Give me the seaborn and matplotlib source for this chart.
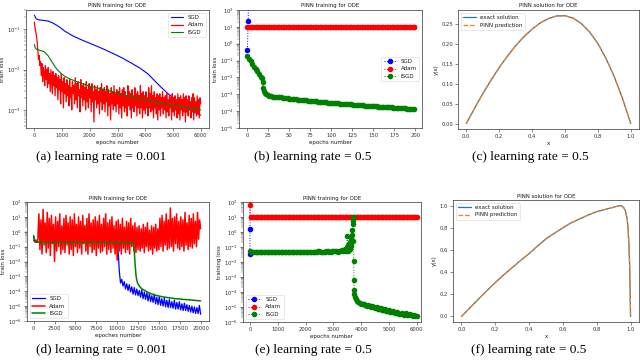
import numpy as np
import matplotlib
matplotlib.use("Agg")
import matplotlib.pyplot as plt
from matplotlib.ticker import LogLocator, NullFormatter, FormatStrFormatter, MultipleLocator
import seaborn as sns

# ---------------- data ----------------
# (a) learning rate 0.001, 6000 epochs
a_sgd_epochs = [0, 60, 150, 300, 500, 700, 900, 1100, 1400, 1700, 2000, 2300, 2600, 2900, 3200,
                3500, 3800, 4100, 4400, 4600, 4800, 5000, 5200, 5400, 5600, 5800, 6000]
a_sgd_loss = [0.225, 0.185, 0.172, 0.168, 0.16, 0.14, 0.115, 0.09, 0.068, 0.055, 0.045, 0.037, 0.03,
              0.024, 0.019, 0.0145, 0.011, 0.0078, 0.0048, 0.0035, 0.0026, 0.002, 0.0016, 0.0012,
              0.001, 0.00085, 0.00074]
a_adam_epochs = list(range(0, 6001, 25))
a_adam_log10 = [-0.82, -0.95, -1.05, -1.15, -1.30, -1.50, -1.75, -1.65, -1.90, -1.80,
                -2.15, -1.85, -2.30, -1.95, -2.05, -2.40, -1.90, -2.25, -2.00, -2.45,
                -1.95, -2.35, -2.10, -2.55, -2.00, -2.30, -2.60, -2.05, -2.40, -2.15,
                -2.65, -2.10, -2.45, -2.20, -2.75, -2.15, -2.50, -2.25, -2.85, -2.10,
                -2.55, -2.30, -2.95, -2.20, -2.60, -2.35, -2.80, -2.25, -2.65, -2.40,
                -2.90, -2.25, -2.70, -2.45, -3.00, -2.30, -2.60, -2.40, -2.85, -2.20,
                -2.75, -2.35, -2.95, -2.30, -2.65, -2.50, -3.05, -2.25, -2.70, -2.40,
                -2.90, -2.35, -2.75, -2.45, -3.00, -2.30, -2.80, -2.50, -2.95, -2.35,
                -2.70, -2.45, -3.05, -2.35, -2.80, -2.55, -3.30, -2.40, -2.75, -2.50,
                -2.95, -2.40, -2.85, -2.55, -3.10, -2.45, -2.80, -2.35, -3.00, -2.50,
                -2.85, -2.45, -3.05, -2.55, -2.80, -2.40, -3.15, -2.50, -2.90, -2.60,
                -3.25, -2.45, -2.85, -2.55, -3.00, -2.40, -2.90, -2.60, -3.05, -2.50,
                -2.85, -2.55, -3.10, -2.45, -2.95, -2.60, -3.20, -2.50, -2.90, -2.45,
                -3.05, -2.55, -2.95, -2.65, -3.15, -2.40, -2.90, -2.55, -3.00, -2.60,
                -3.20, -2.50, -2.95, -2.65, -3.05, -2.45, -2.90, -2.60, -3.15, -2.55,
                -2.95, -2.65, -3.10, -2.40, -2.95, -2.60, -3.20, -2.55, -3.00, -2.65,
                -3.10, -2.55, -2.95, -2.70, -3.15, -2.45, -2.95, -2.60, -3.05, -2.40,
                -3.00, -2.65, -3.20, -2.55, -2.95, -2.70, -3.10, -2.60, -3.25, -2.65,
                -3.00, -2.60, -3.15, -2.70, -2.95, -2.55, -3.10, -2.70, -3.00, -2.65,
                -3.20, -2.60, -3.05, -2.75, -3.15, -2.65, -2.95, -2.70, -3.25, -2.60,
                -3.05, -2.70, -3.15, -2.65, -3.00, -2.75, -3.20, -2.60, -3.10, -2.70,
                -3.25, -2.65, -3.00, -2.75, -3.15, -2.60, -3.05, -2.70, -3.30, -2.65,
                -3.05, -2.75, -3.15, -2.65, -3.00, -2.80, -3.20, -2.70, -3.05, -2.60,
                -3.25, -2.70, -3.05, -2.80, -3.15, -2.65, -3.10, -2.75, -3.20, -2.70,
                -2.85]
a_isgd_epochs = [0, 30, 80, 200, 350, 500, 650, 800, 950, 1100, 1300, 1600, 2000, 2500, 3000,
                 3500, 4000, 4500, 5000, 5500, 6000]
a_isgd_loss = [0.042, 0.035, 0.032, 0.03, 0.028, 0.022, 0.015, 0.0105, 0.0082, 0.0068, 0.0058,
               0.0048, 0.0039, 0.0032, 0.0026, 0.0021, 0.0018, 0.0015, 0.0013, 0.00115, 0.001]

# (b) learning rate 0.5, 200 epochs
b_sgd_epochs = [0, 1, 2]
b_sgd_loss = [0.45, 21.0, 1e30]
b_adam_epochs = list(range(0, 200, 2)) + [199]
b_adam_loss = [10.0, 10.0, 10.0, 10.0, 10.0, 10.0, 10.0, 10.0, 10.0, 10.0,
               10.0, 10.0, 10.0, 10.0, 10.0, 10.0, 10.0, 10.0, 10.0, 10.0,
               10.0, 10.0, 10.0, 10.0, 10.0, 10.0, 10.0, 10.0, 10.0, 10.0,
               10.0, 10.0, 10.0, 10.0, 10.0, 10.0, 10.0, 10.0, 10.0, 10.0,
               10.0, 10.0, 10.0, 10.0, 10.0, 10.0, 10.0, 10.0, 10.0, 10.0,
               10.0, 10.0, 10.0, 10.0, 10.0, 10.0, 10.0, 10.0, 10.0, 10.0,
               10.0, 10.0, 10.0, 10.0, 10.0, 10.0, 10.0, 10.0, 10.0, 10.0,
               10.0, 10.0, 10.0, 10.0, 10.0, 10.0, 10.0, 10.0, 10.0, 10.0,
               10.0, 10.0, 10.0, 10.0, 10.0, 10.0, 10.0, 10.0, 10.0, 10.0,
               10.0, 10.0, 10.0, 10.0, 10.0, 10.0, 10.0, 10.0, 10.0, 10.0, 10.0]
b_isgd_epochs = [0, 2, 4, 6, 8, 10, 12, 14, 16, 17, 18, 19, 20, 21, 22, 24, 26, 28] + list(range(30, 199, 2))
b_isgd_log10 = [-0.72, -0.88, -1.04, -1.20, -1.36, -1.50, -1.62, -1.78, -1.95, -2.05, -2.30, -2.60,
                -2.80, -2.92, -3.00, -3.06, -3.10, -3.12,
                -3.14, -3.15, -3.16, -3.17, -3.18, -3.19, -3.20, -3.21, -3.22, -3.24, -3.25, -3.26,
                -3.27, -3.28, -3.30, -3.31, -3.32, -3.33, -3.34, -3.35, -3.36, -3.37, -3.38, -3.39,
                -3.40, -3.41, -3.42, -3.43, -3.44, -3.45, -3.46, -3.47, -3.48, -3.49, -3.50, -3.51,
                -3.52, -3.53, -3.53, -3.54, -3.55, -3.56, -3.56, -3.57, -3.58, -3.59, -3.60, -3.60,
                -3.61, -3.62, -3.63, -3.64, -3.64, -3.65, -3.66, -3.67, -3.68, -3.68, -3.69, -3.70,
                -3.71, -3.71, -3.72, -3.73, -3.73, -3.74, -3.75, -3.75, -3.76, -3.77, -3.78, -3.78,
                -3.79, -3.80, -3.80, -3.81, -3.82, -3.82, -3.83, -3.84, -3.85, -3.85, -3.86, -3.87,
                -3.87]

# (c) ODE solution, learning rate 0.5
c_x = [0.0, 0.05, 0.1, 0.15, 0.2, 0.25, 0.3, 0.35, 0.4, 0.45, 0.5, 0.55, 0.6, 0.65, 0.7, 0.75,
       0.8, 0.85, 0.9, 0.95, 1.0]
c_exact = [0.000, 0.038, 0.075, 0.109, 0.141, 0.170, 0.196, 0.219, 0.238, 0.254, 0.265, 0.2715,
           0.2720, 0.266, 0.252, 0.231, 0.202, 0.164, 0.118, 0.063, 0.000]
c_pinn = [0.000, 0.038, 0.075, 0.109, 0.141, 0.170, 0.196, 0.219, 0.238, 0.254, 0.265, 0.2715,
          0.2720, 0.266, 0.252, 0.231, 0.202, 0.164, 0.118, 0.063, 0.000]

# (d) learning rate 0.001, 20000 epochs
d_sgd_epochs = [0, 150, 400, 2000, 5000, 8000, 10000, 10150, 10250] + list(range(10400, 20001, 150))
d_sgd_log10 = [-0.30, -0.68, -0.70, -0.70, -0.70, -0.70, -0.75, -1.60, -2.60,
               -3.45, -3.20, -3.65, -3.35, -3.85, -3.50, -3.95, -3.55, -4.05, -3.70,
               -4.20, -3.75, -4.25, -3.85, -4.30, -3.95, -4.40, -3.90, -4.50, -4.05,
               -4.55, -4.10, -4.65, -4.15, -4.70, -4.30, -4.75, -4.20, -4.85, -4.40,
               -4.90, -4.35, -4.95, -4.50, -5.00, -4.45, -5.05, -4.60, -5.10, -4.55,
               -5.10, -4.70, -5.15, -4.60, -5.20, -4.75, -5.20, -4.70, -5.25, -4.85,
               -5.30, -4.80, -5.30, -4.90, -5.35, -4.95, -5.40, -5.00, -5.45, -5.05,
               -5.50, -5.10, -5.50, -4.95, -5.55]
d_adam_epochs = list(range(0, 20001, 125))
d_adam_log10 = [-0.60, -0.65, -0.55, -0.70, -0.50,
                1.2, -1.2, 0.8, -1.5, 1.5, -0.9, 0.6, -1.4, 1.3, -1.1, 0.9, -1.6, 1.1, -0.8, 0.5, -2.0,
                1.0, -1.3, 0.7, -1.0, 1.2, -1.5, 0.4, -1.2, 0.9, -1.4, 1.1, -0.9, 0.6, -1.5, 1.0, -1.2, 0.8, -1.6, 1.2, -1.0,
                0.5, -1.4, 1.0, -1.1, 0.7, -1.5, 1.1, -0.8, 0.4, -1.3, 0.9, -1.5, 1.2, -1.0, 0.6, -1.4, 0.8, -1.2, 1.0, -1.6,
                0.7, -1.1, 1.1, -1.4, 0.5, -1.3, 0.9, -1.0, 1.2, -1.5, 0.6, -1.2, 0.8, -1.4, 1.0, -1.1, 0.4, -1.5, 0.7, -1.9,
                0.8, -1.3, 0.5, -1.5, 0.9, -1.1, 0.3, -1.4, 0.7, -1.2, 0.6, -1.5, 0.9, -1.0, 0.4, -1.3, 0.6, -1.4, 0.3, -1.2,
                0.4, -1.3, 0.2, -1.1, 0.5, -1.4, 0.3, -1.0, 0.6, -1.3, 0.1, -1.2, 0.4, -1.5, 0.3, -1.1, 0.5, -1.3, 0.2, -1.2,
                0.9, -1.0, 1.1, -1.3, 0.7, -0.9, 1.2, -1.2, 0.8, -1.1, 1.6, -1.0, 0.9, -1.3, 1.0, -0.8, 1.2, -1.1, 0.7, -1.2,
                1.0, -1.0, 0.8, -1.3, 1.3, -0.9, 0.6, -1.2, 1.1, -1.0, 0.9, -1.1, 1.2, -0.8, 0.7, -1.0, 1.3, -0.5, 0.8, 0.2]
d_isgd_epochs = [0, 60, 150, 300, 1000, 3000, 6000, 9000, 11000, 11800, 11950, 12050, 12150, 12250,
                 12350, 12450, 12600, 12800, 13000, 13300, 13600, 14000, 14500, 15000, 15500, 16000,
                 16500, 17000, 17500, 18000, 18500, 19000, 19500, 20000]
d_isgd_log10 = [-0.25, -0.55, -0.68, -0.70, -0.72, -0.72, -0.72, -0.72, -0.72, -0.74, -0.85, -1.30,
                -2.20, -2.90, -3.25, -3.45, -3.60, -3.75, -3.85, -3.95, -4.05, -4.15, -4.25, -4.32,
                -4.38, -4.42, -4.46, -4.50, -4.52, -4.55, -4.57, -4.60, -4.62, -4.65]

# (e) learning rate 0.5, 6000 epochs
e_sgd_epochs = [0, 1, 2]
e_sgd_loss = [0.033, 1.6, 1e30]
e_adam_epochs = [0, 20] + list(range(50, 6001, 50))
e_adam_loss = [65.0, 10.0,
               10.0, 10.0, 10.0, 10.0, 10.0, 10.0, 10.0, 10.0, 10.0, 10.0,
               10.0, 10.0, 10.0, 10.0, 10.0, 10.0, 10.0, 10.0, 10.0, 10.0,
               10.0, 10.0, 10.0, 10.0, 10.0, 10.0, 10.0, 10.0, 10.0, 10.0,
               10.0, 10.0, 10.0, 10.0, 10.0, 10.0, 10.0, 10.0, 10.0, 10.0,
               10.0, 10.0, 10.0, 10.0, 10.0, 10.0, 10.0, 10.0, 10.0, 10.0,
               10.0, 10.0, 10.0, 10.0, 10.0, 10.0, 10.0, 10.0, 10.0, 10.0,
               10.0, 10.0, 10.0, 10.0, 10.0, 10.0, 10.0, 10.0, 10.0, 10.0,
               10.0, 10.0, 10.0, 10.0, 10.0, 10.0, 10.0, 10.0, 10.0, 10.0,
               10.0, 10.0, 10.0, 10.0, 10.0, 10.0, 10.0, 10.0, 10.0, 10.0,
               10.0, 10.0, 10.0, 10.0, 10.0, 10.0, 10.0, 10.0, 10.0, 10.0,
               10.0, 10.0, 10.0, 10.0, 10.0, 10.0, 10.0, 10.0, 10.0, 10.0,
               10.0, 10.0, 10.0, 10.0, 10.0, 10.0, 10.0, 10.0, 10.0, 10.0]
e_isgd_epochs = (list(range(0, 3001, 50))
                 + [3050, 3100, 3150, 3200, 3250, 3300, 3350, 3400, 3450]
                 + [3480, 3500, 3520, 3540, 3560, 3580, 3600, 3620, 3640, 3660, 3680, 3690, 3700, 3710, 3720]
                 + [3730, 3735, 3740, 3750, 3770, 3800, 3850, 3900, 3950, 4000]
                 + list(range(4050, 6001, 50)))
e_isgd_log10 = [-1.28, -1.31, -1.32, -1.32, -1.32, -1.31, -1.31, -1.32, -1.32, -1.33,
                -1.33, -1.32, -1.32, -1.32, -1.32, -1.31, -1.31, -1.32, -1.32, -1.32,
                -1.32, -1.33, -1.33, -1.32, -1.32, -1.31, -1.31, -1.32, -1.32, -1.32,
                -1.32, -1.32, -1.32, -1.33, -1.33, -1.31, -1.31, -1.32, -1.32, -1.32,
                -1.32, -1.31, -1.31, -1.32, -1.32, -1.33, -1.33, -1.32, -1.32, -1.30,
                -1.30, -1.32, -1.32, -1.31, -1.31, -1.29, -1.29, -1.32, -1.31, -1.30,
                -1.30,
                -1.30, -1.28, -1.31, -1.25, -1.30, -1.22, -1.29, -1.12, -1.27,
                -1.00, -0.30, -1.25, -0.90, -1.20, -0.70, -1.15, -0.50, -0.95, -0.20, 0.10, -0.60,
                0.50, 0.75, 1.00,
                -1.90, -3.20, -3.85, -4.10, -4.30, -4.45, -4.58, -4.66, -4.73, -4.80,
                -4.82, -4.78, -4.88, -4.90, -4.84, -4.95, -4.98, -4.91, -5.03, -5.06,
                -5.00, -5.12, -5.14, -5.07, -5.19, -5.21, -5.14, -5.25, -5.27, -5.21,
                -5.32, -5.34, -5.27, -5.38, -5.40, -5.33, -5.44, -5.46, -5.39, -5.48,
                -5.50, -5.43, -5.52, -5.54, -5.47, -5.56, -5.58, -5.50, -5.60, -5.62]

# (f) ODE solution, learning rate 0.5
f_x = [0.0, 0.05, 0.1, 0.15, 0.2, 0.25, 0.3, 0.35, 0.4, 0.45, 0.5, 0.55, 0.6, 0.65, 0.7, 0.75,
       0.8, 0.85, 0.9, 0.925, 0.94, 0.95, 0.96, 0.97, 0.98, 0.985, 0.99, 0.995, 1.0]
f_exact = [0.0, 0.078, 0.155, 0.232, 0.305, 0.375, 0.44, 0.505, 0.567, 0.635, 0.70, 0.75, 0.80,
           0.845, 0.88, 0.915, 0.945, 0.965, 0.985, 0.995, 1.0, 0.995, 0.98, 0.95, 0.88, 0.80,
           0.66, 0.45, 0.0]
f_pinn = [0.0, 0.078, 0.155, 0.232, 0.305, 0.375, 0.44, 0.505, 0.567, 0.635, 0.70, 0.75, 0.80,
          0.845, 0.88, 0.915, 0.945, 0.965, 0.985, 0.995, 1.0, 0.995, 0.98, 0.95, 0.88, 0.80,
          0.66, 0.45, 0.0]

captions = ["(a) learning rate = 0.001", "(b) learning rate = 0.5", "(c) learning rate = 0.5",
            "(d) learning rate = 0.001", "(e) learning rate = 0.5", "(f) learning rate = 0.5"]

# ---------------- style ----------------
sns.set_style("ticks")
plt.rcParams["font.family"] = ["DejaVu Sans"]
plt.rcParams.update({
    "axes.linewidth": 0.5, "axes.edgecolor": "0.2",
    "xtick.major.size": 2.0, "ytick.major.size": 2.0,
    "xtick.minor.size": 1.2, "ytick.minor.size": 1.2,
    "xtick.major.width": 0.4, "ytick.major.width": 0.4,
    "xtick.minor.width": 0.3, "ytick.minor.width": 0.3,
    "xtick.major.pad": 1.5, "ytick.major.pad": 1.5,
    "xtick.labelsize": 3.8, "ytick.labelsize": 3.8,
    "axes.labelsize": 4.0, "axes.titlesize": 3.9,
    "axes.labelpad": 1.8, "axes.titlepad": 2.0,
    "legend.fontsize": 4.0,
    "text.color": "0.1", "axes.labelcolor": "0.1",
    "xtick.color": "0.2", "ytick.color": "0.2",
})

W, H = 640, 363
fig = plt.figure(figsize=(6.4, 3.63), dpi=100)


def make_ax(l, r, t, b):
    return fig.add_axes([l / W, 1 - b / H, (r - l) / W, (b - t) / H])


def line(ax, x, y, color, lw, ls="-", marker=None, ms=0, label=None):
    sns.lineplot(x=x, y=y, ax=ax, color=color, linewidth=lw, linestyle=ls, marker=marker,
                 markersize=ms, markeredgewidth=0, markeredgecolor=color, label=label,
                 estimator=None, sort=False, legend=False)


def log_axis(ax, lo, hi):
    ax.set_yscale("log")
    ax.set_ylim(lo, hi)
    ax.yaxis.set_major_locator(LogLocator(base=10, numticks=20))
    ax.yaxis.set_minor_locator(LogLocator(base=10, subs=np.arange(2, 10) * 1.0, numticks=20))
    ax.yaxis.set_minor_formatter(NullFormatter())


def legend(ax, loc):
    lg = ax.legend(loc=loc, handlelength=2.3, borderpad=0.4, labelspacing=0.45,
                   handletextpad=0.8, frameon=True, fancybox=True, framealpha=0.8,
                   edgecolor="0.8", borderaxespad=0.5)
    lg.get_frame().set_linewidth(0.4)


MS = 4.0

# (a)
ax = make_ax(26, 209, 10, 128)
log_axis(ax, 10 ** -3.45, 10 ** -0.52)
line(ax, a_sgd_epochs, a_sgd_loss, "blue", 0.8, label="SGD")
line(ax, a_adam_epochs, 10 ** np.array(a_adam_log10), "red", 0.9, label="Adam")
line(ax, a_isgd_epochs, a_isgd_loss, "green", 0.8, label="ISGD")
ax.set_xlim(-300, 6300)
ax.xaxis.set_major_locator(MultipleLocator(1000))
ax.set_title("PINN training for ODE")
ax.set_xlabel("epochs number")
ax.set_ylabel("train loss")
legend(ax, "upper right")

# (b)
ax = make_ax(239, 422, 10, 128)
log_axis(ax, 1e-5, 1e2)
line(ax, b_sgd_epochs, b_sgd_loss, "blue", 0.7, ":", "o", MS, "SGD")
line(ax, b_adam_epochs, b_adam_loss, "red", 0.7, ":", "o", MS, "Adam")
line(ax, b_isgd_epochs, 10 ** np.array(b_isgd_log10), "green", 0.7, ":", "o", MS, "ISGD")
ax.set_xlim(-10, 208)
ax.xaxis.set_major_locator(MultipleLocator(25))
ax.set_title("PINN training for ODE")
ax.set_xlabel("epochs number")
ax.set_ylabel("train loss")
legend(ax, "center right")

# (c)
ax = make_ax(458, 639, 10, 129)
line(ax, c_x, c_exact, "#1f77b4", 0.9, "-", label="exact solution")
line(ax, c_x, c_pinn, "#ff7f0e", 0.9, "--", label="PINN prediction")
ax.set_xlim(-0.05, 1.05)
ax.set_ylim(-0.0137, 0.2865)
ax.xaxis.set_major_locator(MultipleLocator(0.2))
ax.yaxis.set_major_locator(MultipleLocator(0.05))
ax.xaxis.set_major_formatter(FormatStrFormatter("%.1f"))
ax.yaxis.set_major_formatter(FormatStrFormatter("%.2f"))
ax.set_title("PINN solution for ODE")
ax.set_xlabel("x")
ax.set_ylabel("y(x)")
legend(ax, "upper left")

# (d)
ax = make_ax(27, 209, 202, 321)
log_axis(ax, 1e-6, 1e2)
line(ax, d_sgd_epochs, 10 ** np.array(d_sgd_log10), "blue", 0.9, label="SGD")
line(ax, d_adam_epochs, 10 ** np.array(d_adam_log10), "red", 1.1, label="Adam")
line(ax, d_isgd_epochs, 10 ** np.array(d_isgd_log10), "green", 1.1, label="ISGD")
ax.set_xlim(-800, 21000)
ax.xaxis.set_major_locator(MultipleLocator(2500))
ax.set_title("PINN training for ODE", pad=1.2)
ax.set_xlabel("epoches number")
ax.set_ylabel("train loss")
legend(ax, "lower left")

# (e)
ax = make_ax(243, 421, 202, 322)
log_axis(ax, 1e-6, 1e2)
line(ax, e_sgd_epochs, e_sgd_loss, "blue", 0.7, ":", "o", MS, "SGD")
line(ax, e_adam_epochs, e_adam_loss, "red", 0.7, ":", "o", MS, "Adam")
line(ax, e_isgd_epochs, 10 ** np.array(e_isgd_log10), "green", 0.7, ":", "o", MS, "ISGD")
ax.set_xlim(-250, 6150)
ax.xaxis.set_major_locator(MultipleLocator(1000))
ax.set_title("PINN training for ODE", pad=1.2)
ax.set_xlabel("epochs number")
ax.set_ylabel("training loss")
legend(ax, "lower left")

# (f)
ax = make_ax(453, 639, 200, 322)
line(ax, f_x, f_exact, "#1f77b4", 0.9, "-", label="exact solution")
line(ax, f_x, f_pinn, "#ff7f0e", 0.9, "--", label="PINN prediction")
ax.set_xlim(-0.05, 1.05)
ax.set_ylim(-0.05, 1.05)
ax.xaxis.set_major_locator(MultipleLocator(0.2))
ax.yaxis.set_major_locator(MultipleLocator(0.2))
ax.xaxis.set_major_formatter(FormatStrFormatter("%.1f"))
ax.yaxis.set_major_formatter(FormatStrFormatter("%.1f"))
ax.set_title("PINN solution for ODE", pad=1.2)
ax.set_xlabel("x")
ax.set_ylabel("y(x)")
legend(ax, "upper left")

# captions
cap_pos = [(101, 157), (313, 157), (530, 157), (101, 350), (313, 350), (529, 350)]
for (cx, cy), txt in zip(cap_pos, captions):
    fig.text(cx / W, 1 - cy / H, txt, ha="center", va="center", fontsize=9.6,
             family="Liberation Serif", color="black")

fig.savefig("out.png", dpi=100)
